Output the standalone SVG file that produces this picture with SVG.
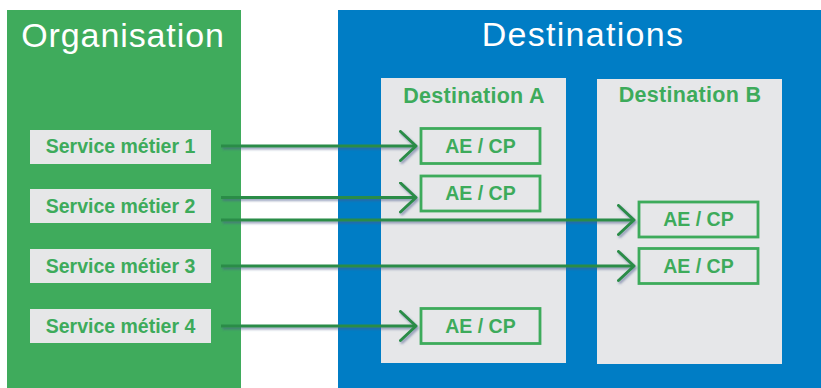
<svg xmlns="http://www.w3.org/2000/svg" width="821" height="388" viewBox="0 0 821 388">
<style>
.title{font-family:"Liberation Sans",Arial,sans-serif;font-size:34px;fill:#ffffff;text-anchor:middle}
.dest{font-family:"Liberation Sans",Arial,sans-serif;font-weight:bold;font-size:21.5px;fill:#3dab5b;text-anchor:middle}
.svc{font-family:"Liberation Sans",Arial,sans-serif;font-weight:bold;font-size:19.5px;fill:#3dab5b;text-anchor:middle}
.svcbox{fill:#e6e7e8}
.aebox{fill:none;stroke:#3dab5b;stroke-width:2.8}
.conn{stroke:#2c8c47;stroke-width:3;fill:none}
</style>
<defs>
<marker id="ah" markerUnits="userSpaceOnUse" markerWidth="22" markerHeight="36" refX="17" refY="16" orient="auto">
<path d="M1.5,1.5 L17,16 L1.5,30.5" fill="none" stroke="#2c8c47" stroke-width="3" stroke-linecap="round" stroke-linejoin="round"/>
</marker>
<filter id="sh" x="-5%" y="-50%" width="110%" height="200%">
<feDropShadow dx="1.5" dy="2" stdDeviation="0.8" flood-color="#4a5a8a" flood-opacity="0.55"/>
</filter>
</defs>

<g id="organisation">
<rect x="7" y="10" width="234" height="378" fill="#3fab5c"/>
<text class="title" x="123" y="46.5" letter-spacing="0.9">Organisation</text>
</g>

<g id="destinations">
<rect x="338" y="10" width="483" height="378" fill="#007dc5"/>
<text class="title" x="583" y="45.5" letter-spacing="1.3">Destinations</text>
</g>

<g id="destination-a">
<rect x="381" y="78" width="185" height="285" fill="#e6e7e9"/>
<text class="dest" x="474" y="103" letter-spacing="0.3">Destination A</text>
</g>

<g id="destination-b">
<rect x="597" y="79" width="185" height="285" fill="#e6e7e9"/>
<text class="dest" x="690" y="102" letter-spacing="0.3">Destination B</text>
</g>

<g id="service-1">
<rect class="svcbox" x="30" y="130" width="181" height="34"/>
<text class="svc" x="120.5" y="153">Service métier 1</text>
</g>
<g id="service-2">
<rect class="svcbox" x="30" y="189" width="181" height="34"/>
<text class="svc" x="120.5" y="212.5">Service métier 2</text>
</g>
<g id="service-3">
<rect class="svcbox" x="30" y="249" width="181" height="34"/>
<text class="svc" x="120.5" y="272.5">Service métier 3</text>
</g>
<g id="service-4">
<rect class="svcbox" x="30" y="309" width="181" height="34"/>
<text class="svc" x="120.5" y="332.5">Service métier 4</text>
</g>

<g id="ae-cp-a1">
<rect class="aebox" x="421" y="128.5" width="119" height="35"/>
<text class="svc" x="480.5" y="152.5">AE / CP</text>
</g>
<g id="ae-cp-a2">
<rect class="aebox" x="421" y="176" width="119" height="35"/>
<text class="svc" x="480.5" y="200">AE / CP</text>
</g>
<g id="ae-cp-a3">
<rect class="aebox" x="421" y="308.5" width="119" height="35"/>
<text class="svc" x="480.5" y="332.5">AE / CP</text>
</g>
<g id="ae-cp-b1">
<rect class="aebox" x="639" y="202" width="119" height="35"/>
<text class="svc" x="698.5" y="226">AE / CP</text>
</g>
<g id="ae-cp-b2">
<rect class="aebox" x="639" y="248.5" width="119" height="35"/>
<text class="svc" x="698.5" y="272.5">AE / CP</text>
</g>

<g id="connectors" filter="url(#sh)">
<line class="conn" x1="221" y1="146" x2="416" y2="146" marker-end="url(#ah)"/>
<line class="conn" x1="221" y1="197.5" x2="416" y2="197.5" marker-end="url(#ah)"/>
<line class="conn" x1="221" y1="220" x2="634" y2="220" marker-end="url(#ah)"/>
<line class="conn" x1="221" y1="266" x2="634" y2="266" marker-end="url(#ah)"/>
<line class="conn" x1="221" y1="326" x2="416" y2="326" marker-end="url(#ah)"/>
</g>
</svg>
